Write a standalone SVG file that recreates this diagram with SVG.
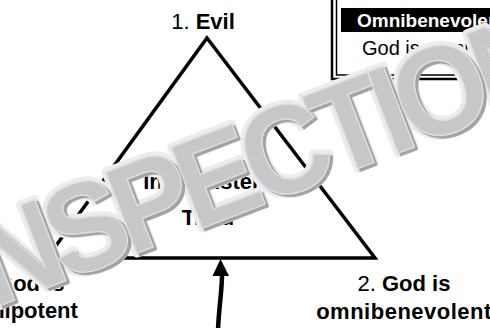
<svg xmlns="http://www.w3.org/2000/svg" width="490" height="328" viewBox="0 0 490 328">
  <style>
    .lbl { font-family: "Liberation Sans", Arial, sans-serif; font-size: 22px; fill: #000; }
    .b { font-weight: bold; }
    .edge { fill: none; stroke: #000; stroke-width: 3.5; stroke-linejoin: miter; }
    .wm { font-family: "Liberation Sans", Arial, sans-serif; font-weight: bold; font-size: 126px; letter-spacing: -10.4px; }
  </style>
  <defs>
    <pattern id="dither" width="2" height="2" patternUnits="userSpaceOnUse">
      <rect width="2" height="2" fill="#d2d2d2"/>
      <rect width="1" height="1" fill="#bababa"/>
      <rect x="1" y="1" width="1" height="1" fill="#c0c0c0"/>
    </pattern>
  </defs>
  <rect width="490" height="328" fill="#fff"/>

  <g id="connectors">
    <polygon class="edge" points="207,38 375,258 47,258"/>
    <path d="M218,330 C219,305 222,292 222,274" fill="none" stroke="#000" stroke-width="4.5"/>
    <polygon points="220.5,259 212.5,276 229,276" fill="#000"/>
  </g>

  <g id="node-evil">
    <text class="lbl" x="203" y="29" text-anchor="middle">1. <tspan class="b">Evil</tspan></text>
  </g>
  <g id="node-omnibenevolent">
    <text class="lbl" x="404" y="291" text-anchor="middle">2. <tspan class="b">God is</tspan></text>
    <text class="lbl b" x="404" y="319" text-anchor="middle" letter-spacing="0.5">omnibenevolent</text>
  </g>
  <g id="node-omnipotent">
    <text class="lbl" x="18" y="291" text-anchor="middle">3. <tspan class="b">God is</tspan></text>
    <text class="lbl b" x="18" y="318" text-anchor="middle">omnipotent</text>
  </g>
  <g id="node-triad">
    <text class="lbl b" x="208" y="189" text-anchor="middle">Inconsistent</text>
    <text class="lbl b" x="208" y="225" text-anchor="middle">Triad</text>
  </g>

  <g id="node-table">
    <path d="M332,-5 V79 H495" fill="none" stroke="#000" stroke-width="2.5"/>
    <path d="M336.5,-5 V75 H495" fill="none" stroke="#000" stroke-width="1.5"/>
    <rect x="341" y="8" width="160" height="24" fill="#000"/>
    <text x="357" y="27" font-family="Liberation Sans, Arial, sans-serif" font-weight="bold" font-size="19" fill="#fff">Omnibenevolence</text>
    <text x="362" y="55" font-family="Liberation Sans, Arial, sans-serif" font-size="20" fill="#000">God is omnibenevolent</text>
  </g>

  <g id="watermark" transform="translate(-29,317) rotate(-21) scale(0.95,1)">
    <text class="wm" x="0" y="0" fill="#ececec" stroke="#ececec" stroke-width="9" stroke-linejoin="round">INSPECTION</text>
    <text class="wm" x="2" y="3" fill="#a4a4a4" stroke="#a4a4a4" stroke-width="2" stroke-linejoin="round">INSPECTION</text>
    <text class="wm" x="0" y="0" fill="url(#dither)" stroke="#dedede" stroke-width="1.5" stroke-linejoin="round">INSPECTION</text>
  </g>
</svg>
